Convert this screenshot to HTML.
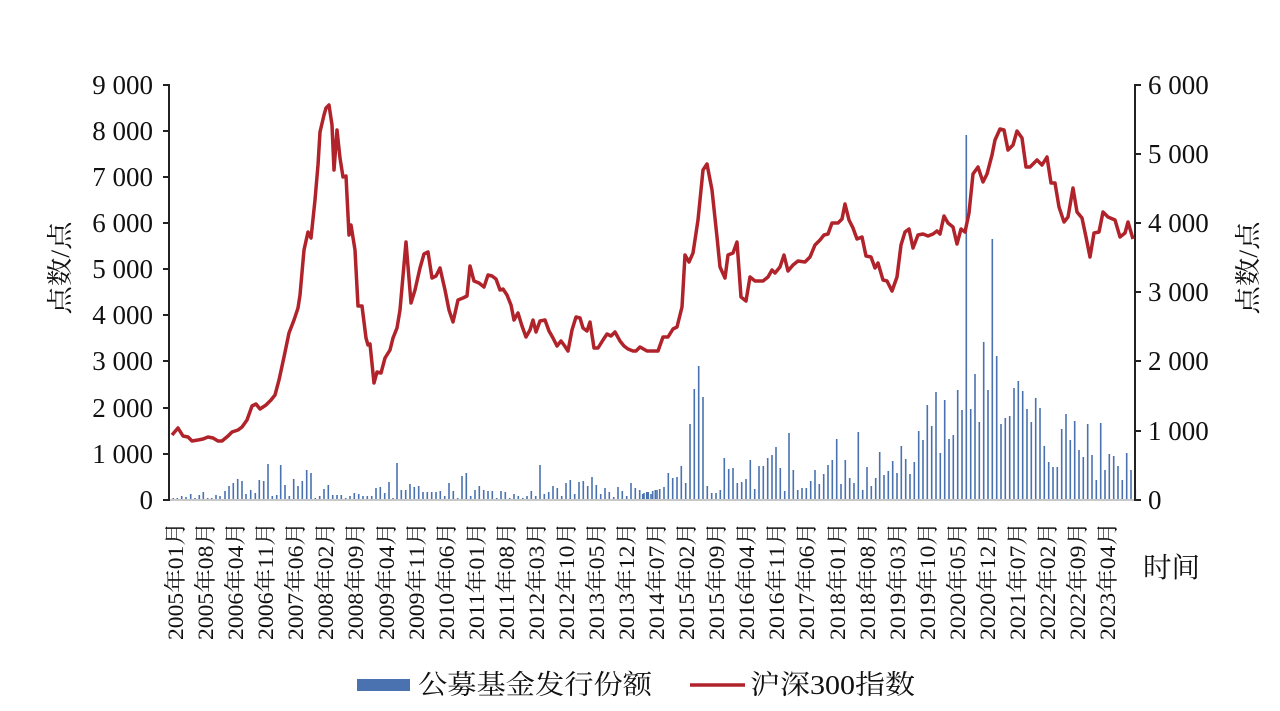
<!DOCTYPE html>
<html><head><meta charset="utf-8"><style>
body{margin:0;background:#fff;}
svg{display:block;}
text{font-family:"Liberation Serif","Noto Serif CJK SC",serif;fill:#111;}
</style></head><body>
<svg id="s" width="1280" height="711" viewBox="0 0 1280 711" xmlns="http://www.w3.org/2000/svg">
<g id="bars" fill="#4a72b0"></g>
<line x1="170" y1="500" x2="1135" y2="500" stroke="#c8c8c8" stroke-width="2"/>
<g stroke="#222" stroke-width="2">
<line x1="169" y1="84" x2="169" y2="501"/>
<line x1="1135" y1="84" x2="1135" y2="501"/>
<line x1="163" y1="85" x2="169" y2="85"/><line x1="163" y1="131" x2="169" y2="131"/><line x1="163" y1="177" x2="169" y2="177"/><line x1="163" y1="223" x2="169" y2="223"/><line x1="163" y1="269" x2="169" y2="269"/><line x1="163" y1="315" x2="169" y2="315"/><line x1="163" y1="361" x2="169" y2="361"/><line x1="163" y1="408" x2="169" y2="408"/><line x1="163" y1="454" x2="169" y2="454"/><line x1="163" y1="500" x2="169" y2="500"/>
<line x1="1135" y1="85" x2="1141" y2="85"/><line x1="1135" y1="154" x2="1141" y2="154"/><line x1="1135" y1="223" x2="1141" y2="223"/><line x1="1135" y1="292" x2="1141" y2="292"/><line x1="1135" y1="361" x2="1141" y2="361"/><line x1="1135" y1="431" x2="1141" y2="431"/><line x1="1135" y1="500" x2="1141" y2="500"/>
</g>
<polyline id="ln" fill="none" stroke="#b0232a" stroke-width="3.5" stroke-linejoin="round" points=""/>
<g font-size="27" text-anchor="end">
<text x="153" y="94">9 000</text><text x="153" y="140">8 000</text><text x="153" y="186">7 000</text><text x="153" y="232">6 000</text><text x="153" y="278">5 000</text><text x="153" y="324">4 000</text><text x="153" y="370">3 000</text><text x="153" y="417">2 000</text><text x="153" y="463">1 000</text><text x="153" y="509">0</text>
</g>
<g font-size="27" text-anchor="start">
<text x="1148" y="94">6 000</text><text x="1148" y="163">5 000</text><text x="1148" y="232">4 000</text><text x="1148" y="301">3 000</text><text x="1148" y="370">2 000</text><text x="1148" y="440">1 000</text><text x="1148" y="509">0</text>
</g>
<text font-size="26" text-anchor="middle" textLength="93" lengthAdjust="spacingAndGlyphs" transform="translate(69,268) rotate(-90)">点数/点</text>
<text font-size="26" text-anchor="middle" textLength="93" lengthAdjust="spacingAndGlyphs" transform="translate(1257,268) rotate(-90)">点数/点</text>
<text font-size="28" x="1143" y="577" textLength="57" lengthAdjust="spacingAndGlyphs">时间</text>
<g font-size="22" text-anchor="end">
<text transform="translate(183,522) rotate(-90)" textLength="118" lengthAdjust="spacingAndGlyphs">2005年01月</text>
<text transform="translate(213,522) rotate(-90)" textLength="118" lengthAdjust="spacingAndGlyphs">2005年08月</text>
<text transform="translate(243,522) rotate(-90)" textLength="118" lengthAdjust="spacingAndGlyphs">2006年04月</text>
<text transform="translate(273,522) rotate(-90)" textLength="118" lengthAdjust="spacingAndGlyphs">2006年11月</text>
<text transform="translate(303,522) rotate(-90)" textLength="118" lengthAdjust="spacingAndGlyphs">2007年06月</text>
<text transform="translate(333,522) rotate(-90)" textLength="118" lengthAdjust="spacingAndGlyphs">2008年02月</text>
<text transform="translate(363,522) rotate(-90)" textLength="118" lengthAdjust="spacingAndGlyphs">2008年09月</text>
<text transform="translate(394,522) rotate(-90)" textLength="118" lengthAdjust="spacingAndGlyphs">2009年04月</text>
<text transform="translate(424,522) rotate(-90)" textLength="118" lengthAdjust="spacingAndGlyphs">2009年11月</text>
<text transform="translate(454,522) rotate(-90)" textLength="118" lengthAdjust="spacingAndGlyphs">2010年06月</text>
<text transform="translate(484,522) rotate(-90)" textLength="118" lengthAdjust="spacingAndGlyphs">2011年01月</text>
<text transform="translate(514,522) rotate(-90)" textLength="118" lengthAdjust="spacingAndGlyphs">2011年08月</text>
<text transform="translate(544,522) rotate(-90)" textLength="118" lengthAdjust="spacingAndGlyphs">2012年03月</text>
<text transform="translate(574,522) rotate(-90)" textLength="118" lengthAdjust="spacingAndGlyphs">2012年10月</text>
<text transform="translate(604,522) rotate(-90)" textLength="118" lengthAdjust="spacingAndGlyphs">2013年05月</text>
<text transform="translate(634,522) rotate(-90)" textLength="118" lengthAdjust="spacingAndGlyphs">2013年12月</text>
<text transform="translate(664,522) rotate(-90)" textLength="118" lengthAdjust="spacingAndGlyphs">2014年07月</text>
<text transform="translate(694,522) rotate(-90)" textLength="118" lengthAdjust="spacingAndGlyphs">2015年02月</text>
<text transform="translate(724,522) rotate(-90)" textLength="118" lengthAdjust="spacingAndGlyphs">2015年09月</text>
<text transform="translate(754,522) rotate(-90)" textLength="118" lengthAdjust="spacingAndGlyphs">2016年04月</text>
<text transform="translate(784,522) rotate(-90)" textLength="118" lengthAdjust="spacingAndGlyphs">2016年11月</text>
<text transform="translate(814,522) rotate(-90)" textLength="118" lengthAdjust="spacingAndGlyphs">2017年06月</text>
<text transform="translate(845,522) rotate(-90)" textLength="118" lengthAdjust="spacingAndGlyphs">2018年01月</text>
<text transform="translate(875,522) rotate(-90)" textLength="118" lengthAdjust="spacingAndGlyphs">2018年08月</text>
<text transform="translate(905,522) rotate(-90)" textLength="118" lengthAdjust="spacingAndGlyphs">2019年03月</text>
<text transform="translate(935,522) rotate(-90)" textLength="118" lengthAdjust="spacingAndGlyphs">2019年10月</text>
<text transform="translate(965,522) rotate(-90)" textLength="118" lengthAdjust="spacingAndGlyphs">2020年05月</text>
<text transform="translate(995,522) rotate(-90)" textLength="118" lengthAdjust="spacingAndGlyphs">2020年12月</text>
<text transform="translate(1025,522) rotate(-90)" textLength="118" lengthAdjust="spacingAndGlyphs">2021年07月</text>
<text transform="translate(1055,522) rotate(-90)" textLength="118" lengthAdjust="spacingAndGlyphs">2022年02月</text>
<text transform="translate(1085,522) rotate(-90)" textLength="118" lengthAdjust="spacingAndGlyphs">2022年09月</text>
<text transform="translate(1115,522) rotate(-90)" textLength="118" lengthAdjust="spacingAndGlyphs">2023年04月</text>
</g>
<rect x="357" y="679" width="53" height="12" fill="#4a72b0"/>
<text font-size="27" x="418" y="694" textLength="234" lengthAdjust="spacingAndGlyphs">公募基金发行份额</text>
<line x1="690" y1="685" x2="745" y2="685" stroke="#b0232a" stroke-width="3.5"/>
<text font-size="27" x="750" y="694" textLength="165" lengthAdjust="spacingAndGlyphs">沪深300指数</text>
</svg>
<script>
var z1=[[40,1],[52,1],[65,3],[78,2],[92,5],[105,1],[118,4],[130,7],[143,1],[155,1],[168,4],[180,3],[195,8],[207,13],[220,16],[233,20],[246,18],[258,5],[272,9],[286,6],[298,19],[311,18],[324,35],[337,3],[350,4],[362,34],[375,14],[388,3],[401,20],[414,13],[427,18],[440,29],[453,26],[466,1],[479,3],[492,10],[505,14],[518,4],[531,4],[544,4],[557,1],[570,3],[583,6],[596,5],[609,3],[622,3],[635,3],[648,11],[661,12],[674,6],[687,17],[699,1],[711,36],[724,9],[737,9],[750,15],[763,12],[776,13],[789,7],[802,7],[815,7],[828,7],[841,8],[854,3],[867,16],[880,8],[893,1],[906,23],[919,26],[932,3],[945,9],[958,13],[971,9],[984,8],[997,8],[1010,1],[1023,8],[1036,7],[1049,1],[1062,5],[1075,3],[1088,1],[1101,3],[1114,8],[1127,3],[1140,34],[1153,5],[1166,7],[1179,13],[1192,11],[1205,3],[1218,16],[1231,19],[1244,5],[1257,17],[1270,18],[1283,13],[1296,22],[1309,14],[1322,5],[1335,11],[1348,7],[1361,2],[1374,12],[1387,8],[1400,3],[1413,16],[1426,11],[1439,9],[1452,6],[1465,7],[1478,8],[1491,9]];
var z2=[[8,5],[20,7],[33,5],[46,9],[59,10],[72,12],[85,26],[98,21],[111,22],[124,33],[137,16],[150,75],[163,110],[176,133],[189,102],[202,13],[215,6],[228,6],[241,9],[253,41],[266,30],[279,31],[292,16],[305,17],[318,20],[331,39],[344,10],[357,33],[370,33],[383,41],[396,44],[408,52],[421,31],[434,8],[447,66],[460,29],[473,9],[486,11],[499,11],[512,18],[525,29],[538,15],[551,25],[564,34],[577,39],[590,60],[603,15],[616,39],[629,21],[642,16],[655,67],[668,9],[681,32],[694,13],[707,21],[719,47],[732,24],[745,28],[758,38],[771,26],[784,53],[797,40],[810,25],[823,37],[836,68],[849,59],[862,94],[875,73],[888,107],[901,46],[914,99],[927,60],[940,64],[953,109],[966,89],[979,364],[992,90],[1005,125],[1018,77],[1031,157],[1044,109],[1057,260],[1070,143],[1083,75],[1096,81],[1109,83],[1122,111],[1135,118],[1148,108],[1161,90],[1174,77],[1187,101],[1200,91],[1213,53],[1226,37],[1239,32],[1252,32],[1265,70],[1278,85],[1291,59],[1304,78],[1317,49],[1330,42],[1343,75],[1356,44],[1369,19],[1382,76],[1395,29],[1408,45],[1421,43],[1434,33],[1447,19],[1460,46],[1473,29],[1486,10]];
var g=document.getElementById('bars'),h='';
z1.forEach(function(b){h+='<rect x="'+(160+b[0]/3-0.8).toFixed(1)+'" y="'+(499-b[1])+'" width="1.6" height="'+b[1]+'"/>';});
z2.forEach(function(b){h+='<rect x="'+(640+b[0]/3-0.8).toFixed(1)+'" y="'+(499-b[1])+'" width="1.6" height="'+b[1]+'"/>';});
g.innerHTML=h;
var p1="172,435 178,428 183,436 188,437 192,441 198,440 203,439 208,437 213,438 218,441 222,441 228,436 232,432 238,430 242,427 247,420 252,406 256,404 260,409 266,405 271,400 275,395 279,380 284,357 289,333 294,320 298,308 300,295 304,250 308,232 311,238 315,200 318,165 320,132 324,115 326,108 329,105 332,125 334,170 337,130 340,158 343,177 346,176 349,235 351,225 355,250 358,306 362,306 366,338 368,345 370,344 374,383 377,372 381,373 385,358 390,350 393,338 397,328 400,310 406,242 411,303 415,290 420,268 424,254 428,252 432,278 436,276 440,268 445,290 449,310 453,322 458,300 463,298 467,296 470,266 474,281 479,283 484,287 488,275 492,276 496,279 500,290 503,289 507,295 511,305 514,320 518,313 522,326 526,337 530,330 533,320 536,332 540,321 545,320 549,331 553,338 557,346 561,341 564,345 568,351 572,330 576,317 580,318 583,328 587,331 590,322 594,348 598,348 603,340 607,334 611,336 615,332 620,341 624,346 628,349 633,351 636,351 640,347 647,351 658,351 663,337 668,337 673,329 677,327 682,307 685,255 689,262 693,253 698,220 703,170 707,164 712,190 717,237 720,267 725,278 728,255 733,253 737,242 741,297 746,301 750,277 755,281 763,281 768,277 772,270 775,273 780,267 784,255 788,271 793,265 798,261 805,262 810,257 815,245 820,240 824,235 828,234 832,223 838,223 842,219 845,204 849,220 853,228 857,239 862,237 866,256 871,257 875,268 878,263 883,280 887,281 892,291 897,277 901,245 905,232 909,229 913,248 918,235 923,234 928,236 933,234 937,231 940,234 944,216 948,223 953,227 957,244 961,229 965,232 969,213 973,174 978,167 983,182 987,174 992,155 995,140 1000,129 1004,130 1008,150 1013,145 1017,131 1022,138 1026,167 1030,167 1037,160 1042,165 1047,157 1051,183 1055,183 1059,207 1064,222 1068,217 1073,188 1077,212 1082,218 1086,237 1090,257 1094,233 1099,232 1103,212 1108,217 1115,220 1120,237 1125,233 1128,222 1133,239";
document.getElementById('ln').setAttribute('points',p1);
</script>
</body></html>
